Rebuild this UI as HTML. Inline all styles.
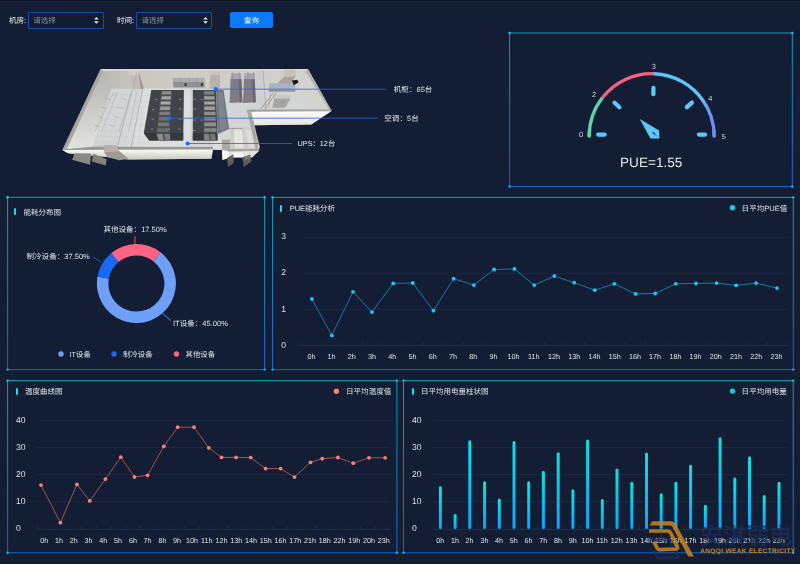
<!DOCTYPE html>
<html lang="zh-CN">
<head>
<meta charset="utf-8">
<title>机房能耗监控</title>
<style>
html,body{margin:0;padding:0}
body{width:800px;height:564px;overflow:hidden;position:relative;text-rendering:geometricPrecision;background:#131e34;font-family:"Liberation Sans",sans-serif;color:#dfe3ea}
.t{position:absolute;white-space:nowrap;margin:0;padding:0}
.bar{position:absolute;width:2.2px;height:7px;border-radius:1px;background:#0fe3f5}
.sel{position:absolute;top:12px;height:14.5px;border:1px solid #1250ae;border-radius:1px;background:#121c31}
.btn{position:absolute;left:230.3px;top:12.2px;width:42.4px;height:16.3px;border-radius:2px;background:#0a7bff;color:#fff;font-size:7.4px;line-height:18px;text-align:center}
svg{position:absolute;left:0;top:0}
#layer{position:absolute;left:0;top:0;width:800px;height:564px;will-change:transform}
.edge{position:absolute;left:0;width:800px;background:#0b1425}
</style>
</head>
<body>
<div id="layer">
<div class="edge" style="top:0;height:1px"></div>
<div class="edge" style="top:562px;height:2px;background:#101a2e"></div>

<div class="t" style="left:9.0px;top:16.2px;font-size:7.55px;line-height:10px;color:#f0f1f3;font-weight:normal;">机房:</div>
<div class="sel" style="left:28px;width:74px"></div>
<div class="t" style="left:33.2px;top:16.2px;font-size:7.55px;line-height:10px;color:#8a90a0;font-weight:normal;">请选择</div>
<div class="t" style="left:117.0px;top:16.2px;font-size:7.55px;line-height:10px;color:#f0f1f3;font-weight:normal;">时间:</div>
<div class="sel" style="left:136.3px;width:74px"></div>
<div class="t" style="left:141.5px;top:16.2px;font-size:7.55px;line-height:10px;color:#8a90a0;font-weight:normal;">请选择</div>
<div class="btn">查询</div>
<svg width="800" height="564" viewBox="0 0 800 564">
<defs>
<linearGradient id="gbar" x1="0" y1="0" x2="0" y2="1"><stop offset="0" stop-color="#0be3e0"/><stop offset="1" stop-color="#0ba4ff"/></linearGradient>
<linearGradient id="gfront" x1="0" y1="0" x2="0" y2="1"><stop offset="0" stop-color="#fbfbf6"/><stop offset="1" stop-color="#c9c9c2"/></linearGradient>
<linearGradient id="gnotch" x1="0" y1="0" x2="0" y2="1"><stop offset="0" stop-color="#ffffff"/><stop offset="1" stop-color="#e4e4de"/></linearGradient>
<linearGradient id="gback" x1="0" y1="0" x2="1" y2="0"><stop offset="0" stop-color="#bcbab5"/><stop offset="0.25" stop-color="#cccac5"/><stop offset="1" stop-color="#d3d1cd"/></linearGradient>
<linearGradient id="gleft" x1="0" y1="0" x2="0" y2="1"><stop offset="0" stop-color="#b4b4b0"/><stop offset="1" stop-color="#e2e2de"/></linearGradient>
<linearGradient id="garc4" gradientUnits="userSpaceOnUse" x1="703" y1="100" x2="714" y2="136"><stop offset="0" stop-color="#62bdfa"/><stop offset="0.35" stop-color="#6f92f6"/><stop offset="1" stop-color="#6f8ef5"/></linearGradient>
<linearGradient id="gv" x1="0" y1="0" x2="0" y2="1"><stop offset="0" stop-color="#0f9fb4"/><stop offset="0.55" stop-color="#1280c0"/><stop offset="1" stop-color="#1664c8"/></linearGradient>
</defs>
<rect x="509.10" y="33.00" width="1.0" height="153.50" fill="url(#gv)"/>
<rect x="791.80" y="33.00" width="1.0" height="153.50" fill="url(#gv)"/>
<rect x="509.60" y="32.50" width="282.70" height="1.0" fill="#0f9fb4"/>
<rect x="509.60" y="186.00" width="282.70" height="1.0" fill="#1664c8"/>
<circle cx="509.60" cy="33.00" r="1.2" fill="#1fc9f5"/>
<circle cx="792.30" cy="33.00" r="1.2" fill="#1fbcf5"/>
<circle cx="509.60" cy="186.50" r="1.2" fill="#1aaef8"/>
<circle cx="792.30" cy="186.50" r="1.2" fill="#1aaef8"/>
<rect x="7.10" y="197.30" width="1.0" height="172.30" fill="url(#gv)"/>
<rect x="264.10" y="197.30" width="1.0" height="172.30" fill="url(#gv)"/>
<rect x="7.60" y="196.80" width="257.00" height="1.0" fill="#0f9fb4"/>
<rect x="7.60" y="369.10" width="257.00" height="1.0" fill="#1664c8"/>
<circle cx="7.60" cy="197.30" r="1.2" fill="#1fc9f5"/>
<circle cx="264.60" cy="197.30" r="1.2" fill="#1fbcf5"/>
<circle cx="7.60" cy="369.60" r="1.2" fill="#1aaef8"/>
<circle cx="264.60" cy="369.60" r="1.2" fill="#1aaef8"/>
<rect x="272.00" y="197.40" width="1.0" height="172.20" fill="url(#gv)"/>
<rect x="792.80" y="197.40" width="1.0" height="172.20" fill="url(#gv)"/>
<rect x="272.50" y="196.90" width="520.80" height="1.0" fill="#0f9fb4"/>
<rect x="272.50" y="369.10" width="520.80" height="1.0" fill="#1664c8"/>
<circle cx="272.50" cy="197.40" r="1.2" fill="#1fc9f5"/>
<circle cx="793.30" cy="197.40" r="1.2" fill="#1fbcf5"/>
<circle cx="272.50" cy="369.60" r="1.2" fill="#1aaef8"/>
<circle cx="793.30" cy="369.60" r="1.2" fill="#1aaef8"/>
<rect x="7.10" y="380.60" width="1.0" height="172.20" fill="url(#gv)"/>
<rect x="396.40" y="380.60" width="1.0" height="172.20" fill="url(#gv)"/>
<rect x="7.60" y="380.10" width="389.30" height="1.0" fill="#0f9fb4"/>
<rect x="7.60" y="552.30" width="389.30" height="1.0" fill="#1664c8"/>
<circle cx="7.60" cy="380.60" r="1.2" fill="#1fc9f5"/>
<circle cx="396.90" cy="380.60" r="1.2" fill="#1fbcf5"/>
<circle cx="7.60" cy="552.80" r="1.2" fill="#1aaef8"/>
<circle cx="396.90" cy="552.80" r="1.2" fill="#1aaef8"/>
<rect x="403.00" y="380.60" width="1.0" height="172.20" fill="url(#gv)"/>
<rect x="792.70" y="380.60" width="1.0" height="172.20" fill="url(#gv)"/>
<rect x="403.50" y="380.10" width="389.70" height="1.0" fill="#0f9fb4"/>
<rect x="403.50" y="552.30" width="389.70" height="1.0" fill="#1664c8"/>
<circle cx="403.50" cy="380.60" r="1.2" fill="#1fc9f5"/>
<circle cx="793.20" cy="380.60" r="1.2" fill="#1fbcf5"/>
<circle cx="403.50" cy="552.80" r="1.2" fill="#1aaef8"/>
<circle cx="793.20" cy="552.80" r="1.2" fill="#1aaef8"/>
<path d="M94.0 19.5 L96.4 17 L98.80000000000001 19.5 Z M94.0 21.2 L96.4 23.7 L98.80000000000001 21.2 Z" fill="#e4e6ea"/>
<path d="M203.1 19.5 L205.5 17 L207.9 19.5 Z M203.1 21.2 L205.5 23.7 L207.9 21.2 Z" fill="#e4e6ea"/>
<g id="room">
<polygon points="100.6,69.1 308,69.1 331.5,110.8 311.4,124.4 253.8,125.3 259.4,148.6 258.8,151 251.9,157.5 230,157.6 222.5,160 221.9,150 213.1,149.8 211.3,158.8 128.6,159.6 107.1,157 68,153.2 62.4,149.9" fill="#adada9" />
<polygon points="100.6,69.1 308,69.1 305.8,71.3 103,71.3" fill="#d9d7d3" />
<polygon points="103,71.3 305.8,71.3 297.8,88.4 111.2,88.4" fill="url(#gback)" />
<polygon points="103.0,71.3 111.8,89.6 93.2,146.7 66.5,149.2" fill="url(#gleft)" />
<polygon points="305.8,71.3 329.6,110.0 316.9,110.0 297.4,89.6" fill="#d3d3cf" />
<polygon points="111.2,88.4 297.8,88.4 317,110 250,110 256.5,147 93.2,146.7" fill="#d3d4d5" />
<polygon points="143,88.4 190,88.4 190,146.8 128,146.8" fill="#dcdddd" />
<polyline points="110.3766,95.5 150,95.5" stroke="#c3c5c8" stroke-width="0.3" fill="none" />
<polyline points="108.4532,101.4 150,101.4" stroke="#c3c5c8" stroke-width="0.3" fill="none" />
<polyline points="106.5298,107.3 150,107.3" stroke="#c3c5c8" stroke-width="0.3" fill="none" />
<polyline points="104.6064,113.2 150,113.2" stroke="#c3c5c8" stroke-width="0.3" fill="none" />
<polyline points="102.68299999999999,119.1 150,119.1" stroke="#c3c5c8" stroke-width="0.3" fill="none" />
<polyline points="100.75959999999999,125.0 150,125.0" stroke="#c3c5c8" stroke-width="0.3" fill="none" />
<polyline points="98.83619999999999,130.9 150,130.9" stroke="#c3c5c8" stroke-width="0.3" fill="none" />
<polyline points="96.91279999999999,136.8 150,136.8" stroke="#c3c5c8" stroke-width="0.3" fill="none" />
<polyline points="94.9894,142.7 150,142.7" stroke="#c3c5c8" stroke-width="0.3" fill="none" />
<polyline points="117.0,89.6 100.8,146.7" stroke="#c6c8cb" stroke-width="0.3" fill="none" />
<polyline points="122.2,89.6 108.4,146.7" stroke="#c6c8cb" stroke-width="0.3" fill="none" />
<polyline points="127.4,89.6 116.0,146.7" stroke="#c6c8cb" stroke-width="0.3" fill="none" />
<polyline points="132.6,89.6 123.6,146.7" stroke="#c6c8cb" stroke-width="0.3" fill="none" />
<polyline points="137.8,89.6 131.2,146.7" stroke="#c6c8cb" stroke-width="0.3" fill="none" />
<polyline points="143.0,89.6 138.8,146.7" stroke="#c6c8cb" stroke-width="0.3" fill="none" />
<polygon points="100.6,69.1 103.0,71.3 66.5,149.2 62.4,149.9" fill="#a6a6a2" />
<polygon points="308.0,69.1 331.5,110.8 329.2,110.0 305.8,71.3" fill="#b3b3af" />
<polygon points="62.4,149.9 66.5,149.2 93.2,146.7 212.5,146.9 212.6,149.6" fill="#979793" />
<polygon points="62.4,150.0 212.9,149.6 211.3,158.8 128.6,159.6 107.1,157 68,153.2" fill="url(#gfront)" />
<polygon points="249.0,109.5 331.5,109.5 331.5,111.3 249.9,111.9" fill="#a1a19d" />
<polygon points="250.8,111.9 331.1,111.2 311.4,124.4 253.6,125.3" fill="url(#gnotch)" />
<polygon points="246.7,110.0 250.8,110.0 260.1,147.7 256.0,148.6" fill="#a6a6a2" />
<polygon points="250.8,111.9 253.6,125.3 259.4,148.0 258.1,149.2" fill="#ecece8" />
<polygon points="212.5,138.8 227.5,138.8 227.5,150.0 213.2,149.8" fill="#dededc" />
<polygon points="221.9,139.4 230.0,139.4 230.0,151.2 228.8,151.2 221.9,150.0" fill="#a9a9a5" />
<polygon points="221.9,150.0 228.8,151.2 230.0,157.5 222.5,160.0" fill="#f6f6f2" />
<polygon points="230.0,127.5 250.0,127.5 256.5,149.0 230.0,149.0" fill="#cfcdc8" />
<polygon points="233.8,129.4 241.9,129.4 243.8,148.1 235.0,148.1" fill="#e4e4e0" />
<polygon points="245.0,130.0 250.0,130.0 255.0,147.8 248.8,148.1" fill="#dddcd6" />
<polygon points="227.5,149.0 258.1,149.0 259.0,151.2 228.1,151.5" fill="#a4a4a0" />
<polygon points="249.8,120.0 253.1,120.0 259.0,150.8 256.2,151.2" fill="#a8a8a4" />
<polygon points="228.8,151.5 258.8,151.0 251.9,157.5 230.0,157.5" fill="#e3e3df" />
<polygon points="233.8,152.8 242.5,152.8 243.1,156.9 234.4,157.1" fill="#f7f7f4" />
<polygon points="226.9,158.1 233.1,154.4 233.8,163.1 228.1,166.9" fill="#5f5d5b" />
<polygon points="242.5,157.5 250.0,154.4 251.5,161.2 243.8,166.9" fill="#5f5d5b" />
<polygon points="244.4,156.2 249.8,155.4 250.0,158.8 245.0,159.8" fill="#7c7a78" />
<polyline points="229.4,128.5 242.5,128.5" stroke="#8a8f94" stroke-width="0.7" fill="none" />
<polygon points="138.5,71.5 143.75,88.75 140.75,89.2 138.5,75.25" fill="#a0988f" />
<polygon points="129.2,75.25 138.5,75.25 140.75,89.2 133.25,89.2" fill="#c3bcb4" />
<polygon points="128.75,70.75 138.5,70.75 138.5,75.25 128.75,75.25" fill="#d3cbc4" />
<polygon points="210.1,75.0 220.0,75.0 220.0,88.9 209.7,88.9" fill="#b7b2ac" />
<polygon points="210.1,71.0 220.0,71.0 220.0,75.0 210.1,75.0" fill="#c9c2ba" />
<polygon points="132.3,89.6 142.5,89.6 131.4,146.7 117.4,146.7" fill="#d6d8da" opacity="0.5"/>
<polyline points="132.3,89.6 117.4,146.7" stroke="#858b91" stroke-width="0.45" fill="none" />
<polyline points="142.5,89.6 131.4,146.7" stroke="#858b91" stroke-width="0.45" fill="none" />
<polyline points="136.6,73.2 133.2,89.6" stroke="#8f949a" stroke-width="0.4" fill="none" />
<polyline points="114.2,91.8 95.0,131.3" stroke="#9ba1a7" stroke-width="0.4" fill="none" />
<polyline points="117.4,91.8 101.6,131.3" stroke="#9ba1a7" stroke-width="0.4" fill="none" />
<polyline points="131.4,91.8 119.2,131.3" stroke="#9ba1a7" stroke-width="0.4" fill="none" />
<polyline points="136.9,91.8 128.6,131.3" stroke="#9ba1a7" stroke-width="0.4" fill="none" />
<polyline points="105.1,98.1 110.3,99.8" stroke="#8e959b" stroke-width="0.4" fill="none" />
<polyline points="121.0,98.1 126.2,99.8" stroke="#8e959b" stroke-width="0.4" fill="none" />
<polyline points="101.4,107.1 106.6,108.7" stroke="#8e959b" stroke-width="0.4" fill="none" />
<polyline points="117.2,107.1 122.4,108.7" stroke="#8e959b" stroke-width="0.4" fill="none" />
<polyline points="97.6,116.0 102.8,117.7" stroke="#8e959b" stroke-width="0.4" fill="none" />
<polyline points="113.5,116.0 118.7,117.7" stroke="#8e959b" stroke-width="0.4" fill="none" />
<polyline points="93.9,124.9 99.1,126.6" stroke="#8e959b" stroke-width="0.4" fill="none" />
<polyline points="109.7,124.9 114.9,126.6" stroke="#8e959b" stroke-width="0.4" fill="none" />
<polygon points="172.6,77.8 204.7,77.8 204.7,82.1 173.0,82.1" fill="#acaeb0" />
<polygon points="173.0,82.1 204.7,82.1 204.7,87.5 173.6,87.5" fill="#8f9193" />
<polygon points="184.6,83.2 186.5,83.2 186.5,86.1 184.6,86.1" fill="#25272a" />
<polygon points="200.9,83.2 202.8,83.2 202.8,86.1 200.9,86.1" fill="#25272a" />
<polyline points="180.6,78.1 180.8,87.2" stroke="#7d7f82" stroke-width="0.3" fill="none" />
<polyline points="188.9,78.1 189.0,87.2" stroke="#7d7f82" stroke-width="0.3" fill="none" />
<polyline points="196.8,78.1 196.9,87.2" stroke="#7d7f82" stroke-width="0.3" fill="none" />
<polygon points="151.3,89.9 183.9,89.9 183.2,140.5 149.2,140.5 143.8,133.1" fill="#404448" />
<polygon points="160.9,90.2 172.1,90.2 170.2,133.4 156.3,133.4" fill="#4a4e50" />
<polygon points="162.2,91.3 171.3,91.3 171.1,94.4 161.9,94.4" fill="#8d8f8b" />
<polygon points="161.6,96.3 170.9,96.3 170.8,99.4 161.3,99.4" fill="#a3a5a0" />
<polygon points="160.9,101.4 170.5,101.4 170.4,104.5 160.6,104.5" fill="#a9aba6" />
<polygon points="160.3,106.5 170.2,106.5 170.0,109.9 160.0,109.9" fill="#979995" />
<polygon points="159.6,111.7 169.8,111.7 169.7,115.1 159.3,115.1" fill="#7b7e7b" />
<polygon points="159.0,117.0 169.4,117.0 169.3,120.5 158.7,120.5" fill="#6d706e" />
<polygon points="158.3,122.5 169.1,122.5 168.9,126.2 158.0,126.2" fill="#737673" />
<polygon points="157.7,128.2 168.7,128.2 168.6,131.8 157.4,131.8" fill="#6b6e6c" />
<polygon points="143.8,133.1 183.2,133.1 183.2,140.5 149.2,140.5" fill="#34383b" />
<polygon points="156.5,133.7 162.8,133.7 163.9,140.5 158.5,140.5" fill="#8a8c89" />
<polygon points="163.9,133.7 169.9,133.7 170.4,140.5 165.0,140.5" fill="#7b7d7b" />
<polyline points="155.1,99.4 157.4,99.4" stroke="#c8ccce" stroke-width="0.5" fill="none" />
<polyline points="152.0,109.7 154.3,109.7" stroke="#c8ccce" stroke-width="0.5" fill="none" />
<polyline points="151.6,119.2 153.9,119.2" stroke="#c8ccce" stroke-width="0.5" fill="none" />
<polyline points="150.6,129.1 152.9,129.1" stroke="#c8ccce" stroke-width="0.5" fill="none" />
<polyline points="179.2,99.4 181.5,99.4" stroke="#c8ccce" stroke-width="0.5" fill="none" />
<polyline points="178.9,109.0 181.2,109.0" stroke="#c8ccce" stroke-width="0.5" fill="none" />
<polyline points="178.9,119.2 181.2,119.2" stroke="#c8ccce" stroke-width="0.5" fill="none" />
<polyline points="178.1,129.1 180.4,129.1" stroke="#c8ccce" stroke-width="0.5" fill="none" />
<polyline points="167.9,129.1 170.2,129.1" stroke="#c8ccce" stroke-width="0.5" fill="none" />
<polygon points="192.8,89.9 216.1,89.9 217.5,140.5 192.8,140.5" fill="#404448" />
<polygon points="203.6,90.2 215.2,90.2 216.9,133.4 203.6,133.4" fill="#4a4e50" />
<polygon points="204.2,91.3 214.1,91.3 214.2,94.4 204.2,94.4" fill="#7f827f" />
<polygon points="204.2,96.3 214.4,96.3 214.5,99.4 204.2,99.4" fill="#a0a29e" />
<polygon points="204.2,101.4 214.7,101.4 214.9,104.5 204.2,104.5" fill="#a6a8a3" />
<polygon points="204.2,106.5 215.0,106.5 215.2,109.9 204.2,109.9" fill="#9d9f9b" />
<polygon points="204.2,111.7 215.3,111.7 215.5,115.1 204.2,115.1" fill="#8f918d" />
<polygon points="204.2,117.0 215.7,117.0 215.8,120.5 204.2,120.5" fill="#878986" />
<polygon points="204.2,122.5 216.0,122.5 216.1,126.2 204.2,126.2" fill="#8d8f8b" />
<polygon points="204.2,128.2 216.3,128.2 216.4,131.8 204.2,131.8" fill="#858784" />
<polygon points="192.8,133.1 217.5,133.1 217.5,140.5 192.8,140.5" fill="#34383b" />
<polygon points="203.9,133.7 209.3,133.7 209.6,140.5 204.2,140.5" fill="#80827f" />
<polygon points="210.1,133.7 215.2,133.7 215.8,140.5 210.7,140.5" fill="#747674" />
<polygon points="216.1,89.9 223.6,89.9 229.1,128.9 218.9,133.4 217.5,133.4" fill="#70767c" />
<polygon points="217.9,92.0 222.6,92.0 227.1,127.7 220.0,130.6" fill="#868c92" opacity="0.7"/>
<polyline points="193.4,99.4 195.7,99.4" stroke="#c8ccce" stroke-width="0.5" fill="none" />
<polyline points="193.4,109.0 195.7,109.0" stroke="#c8ccce" stroke-width="0.5" fill="none" />
<polyline points="193.1,120.1 195.4,120.1" stroke="#c8ccce" stroke-width="0.5" fill="none" />
<polyline points="193.1,130.6 195.4,130.6" stroke="#c8ccce" stroke-width="0.5" fill="none" />
<polyline points="200.5,99.4 202.8,99.4" stroke="#c8ccce" stroke-width="0.5" fill="none" />
<polyline points="200.5,120.1 202.8,120.1" stroke="#c8ccce" stroke-width="0.5" fill="none" />
<polygon points="230.6,78.8 241.3,78.8 242.4,102.2 229.6,103" fill="#7f7c84" />
<polygon points="231,73.2 241,73.2 241.3,79 230.6,79" fill="#a8a6ac" />
<polygon points="238.6,79 241.3,79 242.4,102.2 239.6,102.4" fill="#6b6870" />
<polygon points="244.0,78.8 254.70000000000002,78.8 255.8,102.2 243.0,103" fill="#7f7c84" />
<polygon points="244.4,73.2 254.4,73.2 254.70000000000002,79 244.0,79" fill="#a8a6ac" />
<polygon points="252.0,79 254.70000000000002,79 255.8,102.2 253.0,102.4" fill="#6b6870" />
<polyline points="232.3,72 232.60000000000002,80.5" stroke="#8a8e93" stroke-width="0.6" fill="none" />
<polyline points="239.6,72 239.9,80.5" stroke="#8a8e93" stroke-width="0.6" fill="none" />
<polyline points="247.8,72 248.10000000000002,80.5" stroke="#8a8e93" stroke-width="0.6" fill="none" />
<polyline points="253.6,72 253.9,80.5" stroke="#8a8e93" stroke-width="0.6" fill="none" />
<polyline points="262.9,70.4 265.9,108.6" stroke="#878c92" stroke-width="0.5" fill="none" />
<polygon points="255.9,70.4 262.9,70.4 265.9,108.6 257.3,108.6" fill="#c9cdd1" opacity="0.35"/>
<polygon points="283.8,76.9 295.5,76.0 290.9,84.0 276.9,84.0" fill="#aaa49d" />
<polygon points="284.3,69.8 295.5,69.8 295.5,76.2 283.8,76.9" fill="#c7c1ba" />
<polygon points="269.5,83.4 294.6,82.9 295.5,89.9 268.5,89.9" fill="#aab3c0" />
<polygon points="268.5,89.9 295.5,89.9 295.0,91.8 268.9,91.8" fill="#8d95a0" />
<polygon points="274.5,98.3 290.5,98.3 285.3,107.8 272.2,107.8" fill="#a5a5a1" />
<polygon points="275.0,95.1 290.9,95.1 290.5,98.5 274.5,98.5" fill="#c7c7c3" />
<polygon points="291.8,80.6 297.4,79.7 298.5,82.5 293.8,85.3" fill="#191b1e" />
<polyline points="273.5,92.7 261.1,108.6" stroke="#7d6753" stroke-width="0.6" fill="none" />
<polyline points="276.3,92.7 264.8,108.6" stroke="#7d6753" stroke-width="0.6" fill="none" />
<polyline points="270.4,92.7 269.1,108.6" stroke="#9aa0a6" stroke-width="0.5" fill="none" />
<polygon points="103.8,151.4 119.2,151.0 128.6,158.8 119.2,160.3 107.1,157.0" fill="#a29a92" />
<polygon points="104.3,144.9 115.5,144.9 119.2,151.2 103.8,151.6" fill="#b9b1a9" />
<polygon points="74.6,153.2 91.3,153.6 90.0,164.8 72.1,159.8" fill="#8b8985" />
<polygon points="93.2,153.6 106.8,159.2 105.7,165.4 91.9,161.6" fill="#82807c" />
</g>
<line x1="215.7" y1="89.2" x2="386.3" y2="89.2" stroke="#2567e2" stroke-width="0.8"/>
<circle cx="215.7" cy="89.2" r="2.1" fill="#1a6bff"/>
<line x1="169.2" y1="118.2" x2="377.5" y2="118.2" stroke="#2567e2" stroke-width="0.8"/>
<circle cx="169.2" cy="118.2" r="2.1" fill="#1a6bff"/>
<line x1="187.6" y1="143.5" x2="292" y2="143.5" stroke="#2567e2" stroke-width="0.8"/>
<circle cx="187.6" cy="143.5" r="2.1" fill="#1a6bff"/>
<path d="M589.20 136.20 A62.5 62.5 0 0 1 589.48 130.32" fill="none" stroke="#5fd3ae" stroke-width="3.3" stroke-linecap="round"/>
<path d="M713.92 130.32 A62.5 62.5 0 0 1 714.20 136.20" fill="none" stroke="#6f8ef5" stroke-width="3.3" stroke-linecap="round"/>
<path d="M589.20 136.20 A62.5 62.5 0 0 1 602.56 97.58" fill="none" stroke="#5fd3ae" stroke-width="3.3" stroke-linecap="butt"/>
<path d="M602.56 97.58 A62.5 62.5 0 0 1 654.06 73.74" fill="none" stroke="#f5627d" stroke-width="3.3" stroke-linecap="butt"/>
<path d="M654.06 73.74 A62.5 62.5 0 0 1 703.39 101.07" fill="none" stroke="#62c3fb" stroke-width="3.3" stroke-linecap="butt"/>
<path d="M702.26 99.46 A62.5 62.5 0 0 1 714.20 136.20" fill="none" stroke="url(#garc4)" stroke-width="3.3" stroke-linecap="butt"/>
<line x1="598.2" y1="134.6" x2="604.6" y2="134.6" stroke="#5cc8fb" stroke-width="4.3" stroke-linecap="round"/>
<line x1="699.0" y1="134.6" x2="705.0" y2="134.6" stroke="#5cc8fb" stroke-width="4.3" stroke-linecap="round"/>
<line x1="653.4" y1="88.0" x2="653.4" y2="94.2" stroke="#5cc8fb" stroke-width="4.3" stroke-linecap="round"/>
<line x1="614.6" y1="102.7" x2="619.4" y2="107.2" stroke="#5cc8fb" stroke-width="4.3" stroke-linecap="round"/>
<line x1="691.9" y1="102.6" x2="686.9" y2="107.2" stroke="#5cc8fb" stroke-width="4.3" stroke-linecap="round"/>
<path d="M639.8 119.1 L659.1 130.6 L659.4 138.4 L650.4 138.4 Z" fill="#5cc8fb"/>
<circle cx="653.6" cy="133.2" r="1" fill="#131e34"/>
<line x1="653.6" y1="133.2" x2="656.5" y2="135.9" stroke="#131e34" stroke-width="0.7"/>
<path d="M160.56 252.35 A39.5 39.5 0 1 1 97.52 276.61 L108.84 278.64 A28.0 28.0 0 1 0 153.52 261.45 Z" fill="#6ea0fa"/>
<path d="M97.52 276.61 A39.5 39.5 0 0 1 111.27 253.12 L118.59 261.99 A28.0 28.0 0 0 0 108.84 278.64 Z" fill="#1b67f6"/>
<path d="M111.27 253.12 A39.5 39.5 0 0 1 160.56 252.35 L153.52 261.45 A28.0 28.0 0 0 0 118.59 261.99 Z" fill="#fb6583"/>
<line x1="134.9" y1="236.3" x2="134.9" y2="244.2" stroke="#fb6583" stroke-width="0.8"/>
<line x1="93.2" y1="256.9" x2="100.8" y2="262.3" stroke="#1b67f6" stroke-width="0.8"/>
<line x1="162.6" y1="313.3" x2="171.1" y2="320.7" stroke="#6ea0fa" stroke-width="0.8"/>
<circle cx="61" cy="354" r="2.7" fill="#6ea0fa"/>
<circle cx="114" cy="354" r="2.7" fill="#1b67f6"/>
<circle cx="176.5" cy="354" r="2.7" fill="#fb6583"/>
<line x1="301.5" y1="309.4" x2="787.2" y2="309.4" stroke="#1f2c45" stroke-width="0.7"/>
<line x1="301.5" y1="273.4" x2="787.2" y2="273.4" stroke="#1f2c45" stroke-width="0.7"/>
<line x1="301.5" y1="237.3" x2="787.2" y2="237.3" stroke="#1f2c45" stroke-width="0.7"/>
<line x1="301.5" y1="345.5" x2="787.2" y2="345.5" stroke="#2a3852" stroke-width="0.7"/>
<line x1="301.8" y1="342.3" x2="301.8" y2="345.5" stroke="#2a3852" stroke-width="0.6"/>
<line x1="322.0" y1="342.3" x2="322.0" y2="345.5" stroke="#2a3852" stroke-width="0.6"/>
<line x1="342.2" y1="342.3" x2="342.2" y2="345.5" stroke="#2a3852" stroke-width="0.6"/>
<line x1="362.5" y1="342.3" x2="362.5" y2="345.5" stroke="#2a3852" stroke-width="0.6"/>
<line x1="382.7" y1="342.3" x2="382.7" y2="345.5" stroke="#2a3852" stroke-width="0.6"/>
<line x1="402.9" y1="342.3" x2="402.9" y2="345.5" stroke="#2a3852" stroke-width="0.6"/>
<line x1="423.1" y1="342.3" x2="423.1" y2="345.5" stroke="#2a3852" stroke-width="0.6"/>
<line x1="443.3" y1="342.3" x2="443.3" y2="345.5" stroke="#2a3852" stroke-width="0.6"/>
<line x1="463.6" y1="342.3" x2="463.6" y2="345.5" stroke="#2a3852" stroke-width="0.6"/>
<line x1="483.8" y1="342.3" x2="483.8" y2="345.5" stroke="#2a3852" stroke-width="0.6"/>
<line x1="504.0" y1="342.3" x2="504.0" y2="345.5" stroke="#2a3852" stroke-width="0.6"/>
<line x1="524.2" y1="342.3" x2="524.2" y2="345.5" stroke="#2a3852" stroke-width="0.6"/>
<line x1="544.4" y1="342.3" x2="544.4" y2="345.5" stroke="#2a3852" stroke-width="0.6"/>
<line x1="564.7" y1="342.3" x2="564.7" y2="345.5" stroke="#2a3852" stroke-width="0.6"/>
<line x1="584.9" y1="342.3" x2="584.9" y2="345.5" stroke="#2a3852" stroke-width="0.6"/>
<line x1="605.1" y1="342.3" x2="605.1" y2="345.5" stroke="#2a3852" stroke-width="0.6"/>
<line x1="625.3" y1="342.3" x2="625.3" y2="345.5" stroke="#2a3852" stroke-width="0.6"/>
<line x1="645.5" y1="342.3" x2="645.5" y2="345.5" stroke="#2a3852" stroke-width="0.6"/>
<line x1="665.8" y1="342.3" x2="665.8" y2="345.5" stroke="#2a3852" stroke-width="0.6"/>
<line x1="686.0" y1="342.3" x2="686.0" y2="345.5" stroke="#2a3852" stroke-width="0.6"/>
<line x1="706.2" y1="342.3" x2="706.2" y2="345.5" stroke="#2a3852" stroke-width="0.6"/>
<line x1="726.4" y1="342.3" x2="726.4" y2="345.5" stroke="#2a3852" stroke-width="0.6"/>
<line x1="746.6" y1="342.3" x2="746.6" y2="345.5" stroke="#2a3852" stroke-width="0.6"/>
<line x1="766.9" y1="342.3" x2="766.9" y2="345.5" stroke="#2a3852" stroke-width="0.6"/>
<line x1="787.1" y1="342.3" x2="787.1" y2="345.5" stroke="#2a3852" stroke-width="0.6"/>
<polyline points="311.9,298.9 331.8,335.4 353.0,291.8 371.9,312.1 393.2,283.4 412.8,283.0 433.4,310.7 453.6,278.7 473.9,285.1 494.1,269.5 514.4,268.9 534.2,285.1 554.3,276.0 574.2,282.7 594.8,290.2 614.4,283.8 635.6,293.9 655.2,293.5 675.8,283.8 696.0,283.4 716.6,283.1 736.2,285.4 756.1,283.1 777.0,288.1" fill="none" stroke="#1593bd" stroke-width="0.8"/>
<circle cx="311.9" cy="298.9" r="1.9" fill="#1fc7f0"/>
<circle cx="331.8" cy="335.4" r="1.9" fill="#1fc7f0"/>
<circle cx="353.0" cy="291.8" r="1.9" fill="#1fc7f0"/>
<circle cx="371.9" cy="312.1" r="1.9" fill="#1fc7f0"/>
<circle cx="393.2" cy="283.4" r="1.9" fill="#1fc7f0"/>
<circle cx="412.8" cy="283.0" r="1.9" fill="#1fc7f0"/>
<circle cx="433.4" cy="310.7" r="1.9" fill="#1fc7f0"/>
<circle cx="453.6" cy="278.7" r="1.9" fill="#1fc7f0"/>
<circle cx="473.9" cy="285.1" r="1.9" fill="#1fc7f0"/>
<circle cx="494.1" cy="269.5" r="1.9" fill="#1fc7f0"/>
<circle cx="514.4" cy="268.9" r="1.9" fill="#1fc7f0"/>
<circle cx="534.2" cy="285.1" r="1.9" fill="#1fc7f0"/>
<circle cx="554.3" cy="276.0" r="1.9" fill="#1fc7f0"/>
<circle cx="574.2" cy="282.7" r="1.9" fill="#1fc7f0"/>
<circle cx="594.8" cy="290.2" r="1.9" fill="#1fc7f0"/>
<circle cx="614.4" cy="283.8" r="1.9" fill="#1fc7f0"/>
<circle cx="635.6" cy="293.9" r="1.9" fill="#1fc7f0"/>
<circle cx="655.2" cy="293.5" r="1.9" fill="#1fc7f0"/>
<circle cx="675.8" cy="283.8" r="1.9" fill="#1fc7f0"/>
<circle cx="696.0" cy="283.4" r="1.9" fill="#1fc7f0"/>
<circle cx="716.6" cy="283.1" r="1.9" fill="#1fc7f0"/>
<circle cx="736.2" cy="285.4" r="1.9" fill="#1fc7f0"/>
<circle cx="756.1" cy="283.1" r="1.9" fill="#1fc7f0"/>
<circle cx="777.0" cy="288.1" r="1.9" fill="#1fc7f0"/>
<circle cx="732.5" cy="207.8" r="2.7" fill="#1fc7f0"/>
<line x1="37.3" y1="501.7" x2="389.8" y2="501.7" stroke="#1f2c45" stroke-width="0.7"/>
<line x1="37.3" y1="474.6" x2="389.8" y2="474.6" stroke="#1f2c45" stroke-width="0.7"/>
<line x1="37.3" y1="447.5" x2="389.8" y2="447.5" stroke="#1f2c45" stroke-width="0.7"/>
<line x1="37.3" y1="420.4" x2="389.8" y2="420.4" stroke="#1f2c45" stroke-width="0.7"/>
<line x1="37.3" y1="529.4" x2="389.8" y2="529.4" stroke="#2a3852" stroke-width="0.7"/>
<line x1="37.5" y1="526.2" x2="37.5" y2="529.4" stroke="#2a3852" stroke-width="0.6"/>
<line x1="52.2" y1="526.2" x2="52.2" y2="529.4" stroke="#2a3852" stroke-width="0.6"/>
<line x1="66.9" y1="526.2" x2="66.9" y2="529.4" stroke="#2a3852" stroke-width="0.6"/>
<line x1="81.5" y1="526.2" x2="81.5" y2="529.4" stroke="#2a3852" stroke-width="0.6"/>
<line x1="96.2" y1="526.2" x2="96.2" y2="529.4" stroke="#2a3852" stroke-width="0.6"/>
<line x1="110.9" y1="526.2" x2="110.9" y2="529.4" stroke="#2a3852" stroke-width="0.6"/>
<line x1="125.6" y1="526.2" x2="125.6" y2="529.4" stroke="#2a3852" stroke-width="0.6"/>
<line x1="140.3" y1="526.2" x2="140.3" y2="529.4" stroke="#2a3852" stroke-width="0.6"/>
<line x1="154.9" y1="526.2" x2="154.9" y2="529.4" stroke="#2a3852" stroke-width="0.6"/>
<line x1="169.6" y1="526.2" x2="169.6" y2="529.4" stroke="#2a3852" stroke-width="0.6"/>
<line x1="184.3" y1="526.2" x2="184.3" y2="529.4" stroke="#2a3852" stroke-width="0.6"/>
<line x1="199.0" y1="526.2" x2="199.0" y2="529.4" stroke="#2a3852" stroke-width="0.6"/>
<line x1="213.7" y1="526.2" x2="213.7" y2="529.4" stroke="#2a3852" stroke-width="0.6"/>
<line x1="228.3" y1="526.2" x2="228.3" y2="529.4" stroke="#2a3852" stroke-width="0.6"/>
<line x1="243.0" y1="526.2" x2="243.0" y2="529.4" stroke="#2a3852" stroke-width="0.6"/>
<line x1="257.7" y1="526.2" x2="257.7" y2="529.4" stroke="#2a3852" stroke-width="0.6"/>
<line x1="272.4" y1="526.2" x2="272.4" y2="529.4" stroke="#2a3852" stroke-width="0.6"/>
<line x1="287.1" y1="526.2" x2="287.1" y2="529.4" stroke="#2a3852" stroke-width="0.6"/>
<line x1="301.7" y1="526.2" x2="301.7" y2="529.4" stroke="#2a3852" stroke-width="0.6"/>
<line x1="316.4" y1="526.2" x2="316.4" y2="529.4" stroke="#2a3852" stroke-width="0.6"/>
<line x1="331.1" y1="526.2" x2="331.1" y2="529.4" stroke="#2a3852" stroke-width="0.6"/>
<line x1="345.8" y1="526.2" x2="345.8" y2="529.4" stroke="#2a3852" stroke-width="0.6"/>
<line x1="360.5" y1="526.2" x2="360.5" y2="529.4" stroke="#2a3852" stroke-width="0.6"/>
<line x1="375.1" y1="526.2" x2="375.1" y2="529.4" stroke="#2a3852" stroke-width="0.6"/>
<line x1="389.8" y1="526.2" x2="389.8" y2="529.4" stroke="#2a3852" stroke-width="0.6"/>
<polyline points="41.0,485.1 60.4,522.7 76.9,484.4 89.8,500.9 105.4,479.1 120.8,457.2 134.4,477.0 147.6,475.3 163.8,446.4 177.7,427.2 194.0,427.2 208.8,447.8 221.5,457.4 236.1,457.4 250.7,457.6 265.6,468.6 280.6,468.6 294.5,477.1 310.5,462.3 322.2,458.7 337.9,457.5 353.3,463.2 369.0,457.8 385.2,457.8" fill="none" stroke="#c0644f" stroke-width="0.8"/>
<circle cx="41.0" cy="485.1" r="1.9" fill="#f97f7c"/>
<circle cx="60.4" cy="522.7" r="1.9" fill="#f97f7c"/>
<circle cx="76.9" cy="484.4" r="1.9" fill="#f97f7c"/>
<circle cx="89.8" cy="500.9" r="1.9" fill="#f97f7c"/>
<circle cx="105.4" cy="479.1" r="1.9" fill="#f97f7c"/>
<circle cx="120.8" cy="457.2" r="1.9" fill="#f97f7c"/>
<circle cx="134.4" cy="477.0" r="1.9" fill="#f97f7c"/>
<circle cx="147.6" cy="475.3" r="1.9" fill="#f97f7c"/>
<circle cx="163.8" cy="446.4" r="1.9" fill="#f97f7c"/>
<circle cx="177.7" cy="427.2" r="1.9" fill="#f97f7c"/>
<circle cx="194.0" cy="427.2" r="1.9" fill="#f97f7c"/>
<circle cx="208.8" cy="447.8" r="1.9" fill="#f97f7c"/>
<circle cx="221.5" cy="457.4" r="1.9" fill="#f97f7c"/>
<circle cx="236.1" cy="457.4" r="1.9" fill="#f97f7c"/>
<circle cx="250.7" cy="457.6" r="1.9" fill="#f97f7c"/>
<circle cx="265.6" cy="468.6" r="1.9" fill="#f97f7c"/>
<circle cx="280.6" cy="468.6" r="1.9" fill="#f97f7c"/>
<circle cx="294.5" cy="477.1" r="1.9" fill="#f97f7c"/>
<circle cx="310.5" cy="462.3" r="1.9" fill="#f97f7c"/>
<circle cx="322.2" cy="458.7" r="1.9" fill="#f97f7c"/>
<circle cx="337.9" cy="457.5" r="1.9" fill="#f97f7c"/>
<circle cx="353.3" cy="463.2" r="1.9" fill="#f97f7c"/>
<circle cx="369.0" cy="457.8" r="1.9" fill="#f97f7c"/>
<circle cx="385.2" cy="457.8" r="1.9" fill="#f97f7c"/>
<circle cx="336.4" cy="391.2" r="2.7" fill="#f97f7c"/>
<line x1="433.2" y1="501.6" x2="786.5" y2="501.6" stroke="#1f2c45" stroke-width="0.7"/>
<line x1="433.2" y1="474.5" x2="786.5" y2="474.5" stroke="#1f2c45" stroke-width="0.7"/>
<line x1="433.2" y1="447.5" x2="786.5" y2="447.5" stroke="#1f2c45" stroke-width="0.7"/>
<line x1="433.2" y1="420.4" x2="786.5" y2="420.4" stroke="#1f2c45" stroke-width="0.7"/>
<line x1="433.2" y1="529.4" x2="786.5" y2="529.4" stroke="#2a3852" stroke-width="0.7"/>
<line x1="433.2" y1="526.2" x2="433.2" y2="529.4" stroke="#2a3852" stroke-width="0.6"/>
<line x1="447.9" y1="526.2" x2="447.9" y2="529.4" stroke="#2a3852" stroke-width="0.6"/>
<line x1="462.6" y1="526.2" x2="462.6" y2="529.4" stroke="#2a3852" stroke-width="0.6"/>
<line x1="477.4" y1="526.2" x2="477.4" y2="529.4" stroke="#2a3852" stroke-width="0.6"/>
<line x1="492.1" y1="526.2" x2="492.1" y2="529.4" stroke="#2a3852" stroke-width="0.6"/>
<line x1="506.8" y1="526.2" x2="506.8" y2="529.4" stroke="#2a3852" stroke-width="0.6"/>
<line x1="521.5" y1="526.2" x2="521.5" y2="529.4" stroke="#2a3852" stroke-width="0.6"/>
<line x1="536.2" y1="526.2" x2="536.2" y2="529.4" stroke="#2a3852" stroke-width="0.6"/>
<line x1="551.0" y1="526.2" x2="551.0" y2="529.4" stroke="#2a3852" stroke-width="0.6"/>
<line x1="565.7" y1="526.2" x2="565.7" y2="529.4" stroke="#2a3852" stroke-width="0.6"/>
<line x1="580.4" y1="526.2" x2="580.4" y2="529.4" stroke="#2a3852" stroke-width="0.6"/>
<line x1="595.1" y1="526.2" x2="595.1" y2="529.4" stroke="#2a3852" stroke-width="0.6"/>
<line x1="609.8" y1="526.2" x2="609.8" y2="529.4" stroke="#2a3852" stroke-width="0.6"/>
<line x1="624.6" y1="526.2" x2="624.6" y2="529.4" stroke="#2a3852" stroke-width="0.6"/>
<line x1="639.3" y1="526.2" x2="639.3" y2="529.4" stroke="#2a3852" stroke-width="0.6"/>
<line x1="654.0" y1="526.2" x2="654.0" y2="529.4" stroke="#2a3852" stroke-width="0.6"/>
<line x1="668.7" y1="526.2" x2="668.7" y2="529.4" stroke="#2a3852" stroke-width="0.6"/>
<line x1="683.4" y1="526.2" x2="683.4" y2="529.4" stroke="#2a3852" stroke-width="0.6"/>
<line x1="698.2" y1="526.2" x2="698.2" y2="529.4" stroke="#2a3852" stroke-width="0.6"/>
<line x1="712.9" y1="526.2" x2="712.9" y2="529.4" stroke="#2a3852" stroke-width="0.6"/>
<line x1="727.6" y1="526.2" x2="727.6" y2="529.4" stroke="#2a3852" stroke-width="0.6"/>
<line x1="742.3" y1="526.2" x2="742.3" y2="529.4" stroke="#2a3852" stroke-width="0.6"/>
<line x1="757.0" y1="526.2" x2="757.0" y2="529.4" stroke="#2a3852" stroke-width="0.6"/>
<line x1="771.8" y1="526.2" x2="771.8" y2="529.4" stroke="#2a3852" stroke-width="0.6"/>
<line x1="786.5" y1="526.2" x2="786.5" y2="529.4" stroke="#2a3852" stroke-width="0.6"/>
<rect x="438.9" y="486.2" width="3" height="42.8" rx="1.5" fill="url(#gbar)"/>
<rect x="453.6" y="514.0" width="3" height="15.0" rx="1.5" fill="url(#gbar)"/>
<rect x="468.3" y="440.2" width="3" height="88.8" rx="1.5" fill="url(#gbar)"/>
<rect x="483.1" y="481.3" width="3" height="47.7" rx="1.5" fill="url(#gbar)"/>
<rect x="497.8" y="498.6" width="3" height="30.4" rx="1.5" fill="url(#gbar)"/>
<rect x="512.5" y="441.0" width="3" height="88.0" rx="1.5" fill="url(#gbar)"/>
<rect x="527.2" y="481.3" width="3" height="47.7" rx="1.5" fill="url(#gbar)"/>
<rect x="541.9" y="470.8" width="3" height="58.2" rx="1.5" fill="url(#gbar)"/>
<rect x="556.7" y="452.3" width="3" height="76.7" rx="1.5" fill="url(#gbar)"/>
<rect x="571.4" y="489.3" width="3" height="39.7" rx="1.5" fill="url(#gbar)"/>
<rect x="586.1" y="439.4" width="3" height="89.6" rx="1.5" fill="url(#gbar)"/>
<rect x="600.8" y="499.0" width="3" height="30.0" rx="1.5" fill="url(#gbar)"/>
<rect x="615.5" y="468.6" width="3" height="60.4" rx="1.5" fill="url(#gbar)"/>
<rect x="630.3" y="481.8" width="3" height="47.2" rx="1.5" fill="url(#gbar)"/>
<rect x="645.0" y="452.6" width="3" height="76.4" rx="1.5" fill="url(#gbar)"/>
<rect x="659.7" y="493.3" width="3" height="35.7" rx="1.5" fill="url(#gbar)"/>
<rect x="674.4" y="481.8" width="3" height="47.2" rx="1.5" fill="url(#gbar)"/>
<rect x="689.1" y="464.7" width="3" height="64.3" rx="1.5" fill="url(#gbar)"/>
<rect x="703.9" y="504.7" width="3" height="24.3" rx="1.5" fill="url(#gbar)"/>
<rect x="718.6" y="437.2" width="3" height="91.8" rx="1.5" fill="url(#gbar)"/>
<rect x="733.3" y="477.6" width="3" height="51.4" rx="1.5" fill="url(#gbar)"/>
<rect x="748.0" y="456.2" width="3" height="72.8" rx="1.5" fill="url(#gbar)"/>
<rect x="762.7" y="495.1" width="3" height="33.9" rx="1.5" fill="url(#gbar)"/>
<rect x="777.5" y="481.8" width="3" height="47.2" rx="1.5" fill="url(#gbar)"/>
<circle cx="732.5" cy="391.1" r="2.7" fill="#0fc9f2"/>
</svg>
<div class="t" style="left:393.8px;top:84.7px;font-size:7.55px;line-height:10px;color:#e6e8ec;font-weight:normal;">机柜：65台</div>
<div class="t" style="left:384.3px;top:114.0px;font-size:7.55px;line-height:10px;color:#e6e8ec;font-weight:normal;">空调：5台</div>
<div class="t" style="left:297.5px;top:139.3px;font-size:7.3px;line-height:10px;color:#e6e8ec;font-weight:normal;">UPS：12台</div>
<div class="t" style="left:481.0px;width:200px;text-align:center;top:130.0px;font-size:7.4px;line-height:10px;color:#d5d8de;font-weight:normal;">0</div>
<div class="t" style="left:494.1px;width:200px;text-align:center;top:90.0px;font-size:7.4px;line-height:10px;color:#d5d8de;font-weight:normal;">2</div>
<div class="t" style="left:553.8px;width:200px;text-align:center;top:62.0px;font-size:7.4px;line-height:10px;color:#d5d8de;font-weight:normal;">3</div>
<div class="t" style="left:610.2px;width:200px;text-align:center;top:94.0px;font-size:7.4px;line-height:10px;color:#d5d8de;font-weight:normal;">4</div>
<div class="t" style="left:623.8px;width:200px;text-align:center;top:132.0px;font-size:7.4px;line-height:10px;color:#d5d8de;font-weight:normal;">5</div>
<div class="t" style="left:551.2px;width:200px;text-align:center;top:153.8px;font-size:13.6px;line-height:18px;color:#e9eaed;font-weight:normal;">PUE=1.55</div>
<div class="bar" style="left:14.2px;top:208.3px"></div>
<div class="t" style="left:23.6px;top:207.6px;font-size:7.5px;line-height:10px;color:#e4e7ec;font-weight:normal;">能耗分布图</div>
<div class="bar" style="left:280.3px;top:204.5px"></div>
<div class="t" style="left:289.7px;top:203.8px;font-size:7.5px;line-height:10px;color:#e4e7ec;font-weight:normal;">PUE能耗分析</div>
<div class="bar" style="left:15.7px;top:388.0px"></div>
<div class="t" style="left:25.1px;top:387.3px;font-size:7.5px;line-height:10px;color:#e4e7ec;font-weight:normal;">温度曲线图</div>
<div class="bar" style="left:411.6px;top:388.0px"></div>
<div class="t" style="left:421.0px;top:387.3px;font-size:7.5px;line-height:10px;color:#e4e7ec;font-weight:normal;">日平均用电量柱状图</div>
<div class="t" style="left:103.4px;top:225.3px;font-size:7.55px;line-height:10px;color:#dfe3ea;font-weight:normal;">其他设备：17.50%</div>
<div class="t" style="left:26.5px;top:252.1px;font-size:7.55px;line-height:10px;color:#dfe3ea;font-weight:normal;">制冷设备：37.50%</div>
<div class="t" style="left:173.0px;top:319.3px;font-size:7.55px;line-height:10px;color:#dfe3ea;font-weight:normal;">IT设备：45.00%</div>
<div class="t" style="left:69.5px;top:350.0px;font-size:7.4px;line-height:10px;color:#dfe3ea;font-weight:normal;">IT设备</div>
<div class="t" style="left:123.0px;top:350.0px;font-size:7.4px;line-height:10px;color:#dfe3ea;font-weight:normal;">制冷设备</div>
<div class="t" style="left:185.5px;top:350.0px;font-size:7.4px;line-height:10px;color:#dfe3ea;font-weight:normal;">其他设备</div>
<div class="t" style="left:281.2px;top:339.8px;font-size:8.6px;line-height:10px;color:#dde0e5;font-weight:normal;">0</div>
<div class="t" style="left:281.2px;top:303.6px;font-size:8.6px;line-height:10px;color:#dde0e5;font-weight:normal;">1</div>
<div class="t" style="left:281.2px;top:267.4px;font-size:8.6px;line-height:10px;color:#dde0e5;font-weight:normal;">2</div>
<div class="t" style="left:281.2px;top:231.2px;font-size:8.6px;line-height:10px;color:#dde0e5;font-weight:normal;">3</div>
<div class="t" style="left:211.4px;width:200px;text-align:center;top:352.0px;font-size:7.2px;line-height:10px;color:#dde0e5;font-weight:normal;">0h</div>
<div class="t" style="left:231.6px;width:200px;text-align:center;top:352.0px;font-size:7.2px;line-height:10px;color:#dde0e5;font-weight:normal;">1h</div>
<div class="t" style="left:251.8px;width:200px;text-align:center;top:352.0px;font-size:7.2px;line-height:10px;color:#dde0e5;font-weight:normal;">2h</div>
<div class="t" style="left:272.1px;width:200px;text-align:center;top:352.0px;font-size:7.2px;line-height:10px;color:#dde0e5;font-weight:normal;">3h</div>
<div class="t" style="left:292.3px;width:200px;text-align:center;top:352.0px;font-size:7.2px;line-height:10px;color:#dde0e5;font-weight:normal;">4h</div>
<div class="t" style="left:312.5px;width:200px;text-align:center;top:352.0px;font-size:7.2px;line-height:10px;color:#dde0e5;font-weight:normal;">5h</div>
<div class="t" style="left:332.7px;width:200px;text-align:center;top:352.0px;font-size:7.2px;line-height:10px;color:#dde0e5;font-weight:normal;">6h</div>
<div class="t" style="left:352.9px;width:200px;text-align:center;top:352.0px;font-size:7.2px;line-height:10px;color:#dde0e5;font-weight:normal;">7h</div>
<div class="t" style="left:373.2px;width:200px;text-align:center;top:352.0px;font-size:7.2px;line-height:10px;color:#dde0e5;font-weight:normal;">8h</div>
<div class="t" style="left:393.4px;width:200px;text-align:center;top:352.0px;font-size:7.2px;line-height:10px;color:#dde0e5;font-weight:normal;">9h</div>
<div class="t" style="left:413.6px;width:200px;text-align:center;top:352.0px;font-size:7.2px;line-height:10px;color:#dde0e5;font-weight:normal;">10h</div>
<div class="t" style="left:433.8px;width:200px;text-align:center;top:352.0px;font-size:7.2px;line-height:10px;color:#dde0e5;font-weight:normal;">11h</div>
<div class="t" style="left:454.0px;width:200px;text-align:center;top:352.0px;font-size:7.2px;line-height:10px;color:#dde0e5;font-weight:normal;">12h</div>
<div class="t" style="left:474.3px;width:200px;text-align:center;top:352.0px;font-size:7.2px;line-height:10px;color:#dde0e5;font-weight:normal;">13h</div>
<div class="t" style="left:494.5px;width:200px;text-align:center;top:352.0px;font-size:7.2px;line-height:10px;color:#dde0e5;font-weight:normal;">14h</div>
<div class="t" style="left:514.7px;width:200px;text-align:center;top:352.0px;font-size:7.2px;line-height:10px;color:#dde0e5;font-weight:normal;">15h</div>
<div class="t" style="left:534.9px;width:200px;text-align:center;top:352.0px;font-size:7.2px;line-height:10px;color:#dde0e5;font-weight:normal;">16h</div>
<div class="t" style="left:555.1px;width:200px;text-align:center;top:352.0px;font-size:7.2px;line-height:10px;color:#dde0e5;font-weight:normal;">17h</div>
<div class="t" style="left:575.4px;width:200px;text-align:center;top:352.0px;font-size:7.2px;line-height:10px;color:#dde0e5;font-weight:normal;">18h</div>
<div class="t" style="left:595.6px;width:200px;text-align:center;top:352.0px;font-size:7.2px;line-height:10px;color:#dde0e5;font-weight:normal;">19h</div>
<div class="t" style="left:615.8px;width:200px;text-align:center;top:352.0px;font-size:7.2px;line-height:10px;color:#dde0e5;font-weight:normal;">20h</div>
<div class="t" style="left:636.0px;width:200px;text-align:center;top:352.0px;font-size:7.2px;line-height:10px;color:#dde0e5;font-weight:normal;">21h</div>
<div class="t" style="left:656.2px;width:200px;text-align:center;top:352.0px;font-size:7.2px;line-height:10px;color:#dde0e5;font-weight:normal;">22h</div>
<div class="t" style="left:676.5px;width:200px;text-align:center;top:352.0px;font-size:7.2px;line-height:10px;color:#dde0e5;font-weight:normal;">23h</div>
<div class="t" style="left:741.6px;top:203.7px;font-size:7.55px;line-height:10px;color:#dfe3ea;font-weight:normal;">日平均PUE值</div>
<div class="t" style="left:16.0px;top:523.4px;font-size:8.6px;line-height:10px;color:#dde0e5;font-weight:normal;">0</div>
<div class="t" style="left:16.0px;top:496.3px;font-size:8.6px;line-height:10px;color:#dde0e5;font-weight:normal;">10</div>
<div class="t" style="left:16.0px;top:469.2px;font-size:8.6px;line-height:10px;color:#dde0e5;font-weight:normal;">20</div>
<div class="t" style="left:16.0px;top:442.1px;font-size:8.6px;line-height:10px;color:#dde0e5;font-weight:normal;">30</div>
<div class="t" style="left:16.0px;top:415.0px;font-size:8.6px;line-height:10px;color:#dde0e5;font-weight:normal;">40</div>
<div class="t" style="left:-55.7px;width:200px;text-align:center;top:536.0px;font-size:7.2px;line-height:10px;color:#dde0e5;font-weight:normal;">0h</div>
<div class="t" style="left:-40.9px;width:200px;text-align:center;top:536.0px;font-size:7.2px;line-height:10px;color:#dde0e5;font-weight:normal;">1h</div>
<div class="t" style="left:-26.2px;width:200px;text-align:center;top:536.0px;font-size:7.2px;line-height:10px;color:#dde0e5;font-weight:normal;">2h</div>
<div class="t" style="left:-11.4px;width:200px;text-align:center;top:536.0px;font-size:7.2px;line-height:10px;color:#dde0e5;font-weight:normal;">3h</div>
<div class="t" style="left:3.3px;width:200px;text-align:center;top:536.0px;font-size:7.2px;line-height:10px;color:#dde0e5;font-weight:normal;">4h</div>
<div class="t" style="left:18.1px;width:200px;text-align:center;top:536.0px;font-size:7.2px;line-height:10px;color:#dde0e5;font-weight:normal;">5h</div>
<div class="t" style="left:32.9px;width:200px;text-align:center;top:536.0px;font-size:7.2px;line-height:10px;color:#dde0e5;font-weight:normal;">6h</div>
<div class="t" style="left:47.6px;width:200px;text-align:center;top:536.0px;font-size:7.2px;line-height:10px;color:#dde0e5;font-weight:normal;">7h</div>
<div class="t" style="left:62.4px;width:200px;text-align:center;top:536.0px;font-size:7.2px;line-height:10px;color:#dde0e5;font-weight:normal;">8h</div>
<div class="t" style="left:77.1px;width:200px;text-align:center;top:536.0px;font-size:7.2px;line-height:10px;color:#dde0e5;font-weight:normal;">9h</div>
<div class="t" style="left:91.9px;width:200px;text-align:center;top:536.0px;font-size:7.2px;line-height:10px;color:#dde0e5;font-weight:normal;">10h</div>
<div class="t" style="left:106.7px;width:200px;text-align:center;top:536.0px;font-size:7.2px;line-height:10px;color:#dde0e5;font-weight:normal;">11h</div>
<div class="t" style="left:121.4px;width:200px;text-align:center;top:536.0px;font-size:7.2px;line-height:10px;color:#dde0e5;font-weight:normal;">12h</div>
<div class="t" style="left:136.2px;width:200px;text-align:center;top:536.0px;font-size:7.2px;line-height:10px;color:#dde0e5;font-weight:normal;">13h</div>
<div class="t" style="left:150.9px;width:200px;text-align:center;top:536.0px;font-size:7.2px;line-height:10px;color:#dde0e5;font-weight:normal;">14h</div>
<div class="t" style="left:165.7px;width:200px;text-align:center;top:536.0px;font-size:7.2px;line-height:10px;color:#dde0e5;font-weight:normal;">15h</div>
<div class="t" style="left:180.5px;width:200px;text-align:center;top:536.0px;font-size:7.2px;line-height:10px;color:#dde0e5;font-weight:normal;">16h</div>
<div class="t" style="left:195.2px;width:200px;text-align:center;top:536.0px;font-size:7.2px;line-height:10px;color:#dde0e5;font-weight:normal;">17h</div>
<div class="t" style="left:210.0px;width:200px;text-align:center;top:536.0px;font-size:7.2px;line-height:10px;color:#dde0e5;font-weight:normal;">21h</div>
<div class="t" style="left:224.7px;width:200px;text-align:center;top:536.0px;font-size:7.2px;line-height:10px;color:#dde0e5;font-weight:normal;">18h</div>
<div class="t" style="left:239.5px;width:200px;text-align:center;top:536.0px;font-size:7.2px;line-height:10px;color:#dde0e5;font-weight:normal;">22h</div>
<div class="t" style="left:254.3px;width:200px;text-align:center;top:536.0px;font-size:7.2px;line-height:10px;color:#dde0e5;font-weight:normal;">19h</div>
<div class="t" style="left:269.0px;width:200px;text-align:center;top:536.0px;font-size:7.2px;line-height:10px;color:#dde0e5;font-weight:normal;">20h</div>
<div class="t" style="left:283.8px;width:200px;text-align:center;top:536.0px;font-size:7.2px;line-height:10px;color:#dde0e5;font-weight:normal;">23h</div>
<div class="t" style="left:346.0px;top:387.3px;font-size:7.55px;line-height:10px;color:#dfe3ea;font-weight:normal;">日平均温度值</div>
<div class="t" style="left:412.0px;top:523.0px;font-size:8.6px;line-height:10px;color:#dde0e5;font-weight:normal;">0</div>
<div class="t" style="left:412.0px;top:496.0px;font-size:8.6px;line-height:10px;color:#dde0e5;font-weight:normal;">10</div>
<div class="t" style="left:412.0px;top:469.0px;font-size:8.6px;line-height:10px;color:#dde0e5;font-weight:normal;">20</div>
<div class="t" style="left:412.0px;top:442.0px;font-size:8.6px;line-height:10px;color:#dde0e5;font-weight:normal;">30</div>
<div class="t" style="left:412.0px;top:415.0px;font-size:8.6px;line-height:10px;color:#dde0e5;font-weight:normal;">40</div>
<div class="t" style="left:340.2px;width:200px;text-align:center;top:536.0px;font-size:7.2px;line-height:10px;color:#dde0e5;font-weight:normal;">0h</div>
<div class="t" style="left:354.9px;width:200px;text-align:center;top:536.0px;font-size:7.2px;line-height:10px;color:#dde0e5;font-weight:normal;">1h</div>
<div class="t" style="left:369.6px;width:200px;text-align:center;top:536.0px;font-size:7.2px;line-height:10px;color:#dde0e5;font-weight:normal;">2h</div>
<div class="t" style="left:384.4px;width:200px;text-align:center;top:536.0px;font-size:7.2px;line-height:10px;color:#dde0e5;font-weight:normal;">3h</div>
<div class="t" style="left:399.1px;width:200px;text-align:center;top:536.0px;font-size:7.2px;line-height:10px;color:#dde0e5;font-weight:normal;">4h</div>
<div class="t" style="left:413.8px;width:200px;text-align:center;top:536.0px;font-size:7.2px;line-height:10px;color:#dde0e5;font-weight:normal;">5h</div>
<div class="t" style="left:428.5px;width:200px;text-align:center;top:536.0px;font-size:7.2px;line-height:10px;color:#dde0e5;font-weight:normal;">6h</div>
<div class="t" style="left:443.2px;width:200px;text-align:center;top:536.0px;font-size:7.2px;line-height:10px;color:#dde0e5;font-weight:normal;">7h</div>
<div class="t" style="left:458.0px;width:200px;text-align:center;top:536.0px;font-size:7.2px;line-height:10px;color:#dde0e5;font-weight:normal;">8h</div>
<div class="t" style="left:472.7px;width:200px;text-align:center;top:536.0px;font-size:7.2px;line-height:10px;color:#dde0e5;font-weight:normal;">9h</div>
<div class="t" style="left:487.4px;width:200px;text-align:center;top:536.0px;font-size:7.2px;line-height:10px;color:#dde0e5;font-weight:normal;">10h</div>
<div class="t" style="left:502.1px;width:200px;text-align:center;top:536.0px;font-size:7.2px;line-height:10px;color:#dde0e5;font-weight:normal;">11h</div>
<div class="t" style="left:516.8px;width:200px;text-align:center;top:536.0px;font-size:7.2px;line-height:10px;color:#dde0e5;font-weight:normal;">12h</div>
<div class="t" style="left:531.6px;width:200px;text-align:center;top:536.0px;font-size:7.2px;line-height:10px;color:#dde0e5;font-weight:normal;">13h</div>
<div class="t" style="left:546.3px;width:200px;text-align:center;top:536.0px;font-size:7.2px;line-height:10px;color:#dde0e5;font-weight:normal;">14h</div>
<div class="t" style="left:561.0px;width:200px;text-align:center;top:536.0px;font-size:7.2px;line-height:10px;color:#dde0e5;font-weight:normal;">15h</div>
<div class="t" style="left:575.7px;width:200px;text-align:center;top:536.0px;font-size:7.2px;line-height:10px;color:#dde0e5;font-weight:normal;">16h</div>
<div class="t" style="left:590.4px;width:200px;text-align:center;top:536.0px;font-size:7.2px;line-height:10px;color:#dde0e5;font-weight:normal;">17h</div>
<div class="t" style="left:605.2px;width:200px;text-align:center;top:536.0px;font-size:7.2px;line-height:10px;color:#dde0e5;font-weight:normal;">18h</div>
<div class="t" style="left:619.9px;width:200px;text-align:center;top:536.0px;font-size:7.2px;line-height:10px;color:#dde0e5;font-weight:normal;">19h</div>
<div class="t" style="left:634.6px;width:200px;text-align:center;top:536.0px;font-size:7.2px;line-height:10px;color:#dde0e5;font-weight:normal;">20h</div>
<div class="t" style="left:649.3px;width:200px;text-align:center;top:536.0px;font-size:7.2px;line-height:10px;color:#dde0e5;font-weight:normal;">21h</div>
<div class="t" style="left:664.0px;width:200px;text-align:center;top:536.0px;font-size:7.2px;line-height:10px;color:#dde0e5;font-weight:normal;">22h</div>
<div class="t" style="left:678.8px;width:200px;text-align:center;top:536.0px;font-size:7.2px;line-height:10px;color:#dde0e5;font-weight:normal;">23h</div>
<div class="t" style="left:741.6px;top:387.3px;font-size:7.55px;line-height:10px;color:#dfe3ea;font-weight:normal;">日平均用电量</div>
<div class="t" style="left:700px;top:524.5px;font-size:22.6px;line-height:24px;color:#1c2e59;opacity:0.75;letter-spacing:0.6px;font-weight:bold">安淇弱电</div>
<svg width="800" height="564" viewBox="0 0 800 564"><path d="M649.12 531.01 L667.46 531.01 Q669.67 531.01 670.74 533.04 L677.20 546.33 Q678.35 548.81 675.87 548.99 L659.93 549.70 Q658.16 549.78 657.27 548.10 L653.73 541.64" transform="translate(0,8.2)" fill="none" stroke="#1d2f5c" stroke-width="3.6" stroke-linejoin="round" opacity="0.55"/>
<g opacity="0.88">
<path d="M651.96 521.26 L671.00 521.26 Q674.10 521.26 675.61 523.92 L694.03 556.52 L688.27 556.52 L672.60 527.29 Q671.71 525.51 670.12 525.51 L649.74 525.51 Z" fill="#c8851d"/>
<path d="M649.12 531.01 L667.46 531.01 Q669.67 531.01 670.74 533.04 L677.20 546.33 Q678.35 548.81 675.87 548.99 L659.93 549.70 Q658.16 549.78 657.27 548.10 L653.73 541.64" fill="none" stroke="#c8851d" stroke-width="3.7" stroke-linejoin="round"/>
</g></svg>
<div class="t" style="left:700.2px;top:547.0px;font-size:6.6px;line-height:10px;color:#d08d24;font-weight:bold;letter-spacing:0.3px;opacity:0.95">ANQQI WEAK ELECTRICITY</div>
</div>
</body>
</html>
